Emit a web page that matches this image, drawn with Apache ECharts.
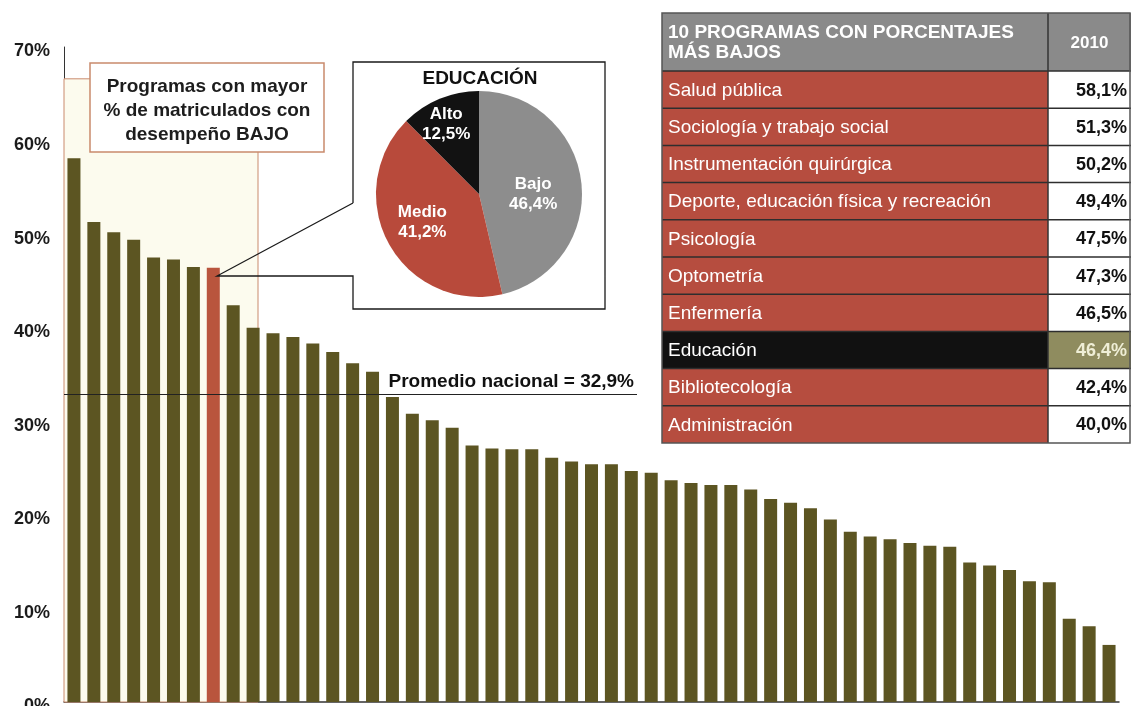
<!DOCTYPE html>
<html>
<head>
<meta charset="utf-8">
<script src="https://cdn.jsdelivr.net/npm/echarts@6/dist/echarts.min.js"></script>
<style>
  html, body { margin: 0; padding: 0; background: #fff; }
  #chart { width: 1131px; height: 706px; }
</style>
</head>
<body>
<div id="chart"></div>
<script>
// % de matriculados con desempeño bajo, por programa (ordenado)
const topNames = ['Salud pública', 'Sociología y trabajo social', 'Instrumentación quirúrgica',
  'Deporte, educación física y recreación', 'Psicología', 'Optometría', 'Enfermería',
  'Educación', 'Bibliotecología', 'Administración']
const programValues = [58.1, 51.3, 50.2, 49.4, 47.5, 47.3, 46.5, 46.4, 42.4, 40.0,
  39.4, 39.0, 38.3, 37.4, 36.2, 35.3, 32.6, 30.8, 30.1, 29.3,
  27.4, 27.1, 27.0, 27.0, 26.1, 25.7, 25.4, 25.4, 24.7, 24.5,
  23.7, 23.4, 23.2, 23.2, 22.7, 21.7, 21.3, 20.7, 19.5, 18.2,
  17.7, 17.4, 17.0, 16.7, 16.6, 14.9, 14.6, 14.1, 12.9, 12.8,
  8.9, 8.1, 6.1]
const categories = programValues.map((v, i) => i < topNames.length ? topNames[i] : 'Programa ' + (i + 1))
const highlightIndex = 7
const nationalMean = 32.9

// pie Educación
const pieNames = ['Bajo', 'Medio', 'Alto']
const pieValues = [46.4, 41.2, 12.5]

// tabla
const tableValues = ['58,1%', '51,3%', '50,2%', '49,4%', '47,5%', '47,3%', '46,5%', '46,4%', '42,4%', '40,0%']

const FONT = '"Liberation Sans", Arial, Helvetica, sans-serif'
const OLIVE = '#5c5522'
const RED = '#b9553d'
const TABLE_RED = '#b64d3f'

const chart = echarts.init(document.getElementById('chart'))

// table built with graphic elements
let tableEls = []
const tX = 662, tDiv = 1048, tR = 1131, tTop = 13, tHead = 71, rowH = 37.2
tableEls.push({type: 'rect', shape: {x: tX, y: tTop, width: tDiv - tX, height: tHead - tTop}, style: {fill: '#8a8a8a'}})
tableEls.push({type: 'rect', shape: {x: tDiv, y: tTop, width: tR - tDiv, height: tHead - tTop}, style: {fill: '#8a8a8a'}})
tableEls.push({type: 'text', x: 668, y: 43, style: {
  text: '10 PROGRAMAS CON PORCENTAJES\nMÁS BAJOS', fill: '#fff', font: 'bold 19px ' + FONT,
  lineHeight: 20, verticalAlign: 'middle', align: 'left'}})
tableEls.push({type: 'text', x: (tDiv + tR) / 2, y: 43, style: {
  text: '2010', fill: '#fff', font: 'bold 17px ' + FONT, verticalAlign: 'middle', align: 'center'}})
for (let i = 0; i < topNames.length; i++) {
  let y = tHead + i * rowH
  let isEdu = i === highlightIndex
  tableEls.push({type: 'rect', shape: {x: tX, y: y, width: tDiv - tX, height: rowH}, style: {fill: isEdu ? '#111' : TABLE_RED}})
  tableEls.push({type: 'rect', shape: {x: tDiv, y: y, width: tR - tDiv, height: rowH}, style: {fill: isEdu ? '#8f8c5f' : '#fff'}})
  tableEls.push({type: 'text', x: 668, y: y + rowH / 2 + 1, style: {
    text: topNames[i], fill: '#fff', font: '19px ' + FONT, verticalAlign: 'middle', align: 'left'}})
  tableEls.push({type: 'text', x: 1127, y: y + rowH / 2 + 1, style: {
    text: tableValues[i], fill: isEdu ? '#efeed6' : '#111', font: 'bold 18px ' + FONT, verticalAlign: 'middle', align: 'right'}})
  tableEls.push({type: 'line', shape: {x1: tX, y1: y, x2: tR, y2: y}, style: {stroke: '#2e2e2e', lineWidth: 1.5}})
}
tableEls.push({type: 'line', shape: {x1: tDiv, y1: tTop, x2: tDiv, y2: tHead + 10 * rowH}, style: {stroke: '#333', lineWidth: 1.5}})
tableEls.push({type: 'rect', shape: {x: tX, y: tTop, width: tR - tX - 1, height: tHead + 10 * rowH - tTop},
  style: {fill: 'none', stroke: '#555', lineWidth: 1.5}})

const option = {
  backgroundColor: '#fff',
  animation: false,
  grid: {left: 64, right: 12, top: 47, bottom: 4, containLabel: false, outerBoundsMode: 'none'},
  xAxis: {
    type: 'category',
    data: categories,
    boundaryGap: true,
    axisLine: {lineStyle: {color: '#333', width: 1.5}},
    axisTick: {show: false},
    axisLabel: {show: false}
  },
  yAxis: {
    type: 'value',
    min: 0,
    max: 70,
    interval: 10,
    axisLine: {show: true, lineStyle: {color: '#333', width: 1}},
    axisTick: {show: false},
    splitLine: {show: false},
    axisLabel: {
      formatter: '{value}%', fontWeight: 'bold', fontSize: 18, color: '#1b1b1b',
      fontFamily: FONT, margin: 14, verticalAlign: 'top', lineHeight: 9
    }
  },
  series: [
    {
      type: 'bar',
      data: programValues.map((v, i) => i === highlightIndex ? {value: v, itemStyle: {color: RED}} : v),
      barWidth: 13,
      itemStyle: {color: OLIVE},
      markArea: {
        silent: true,
        itemStyle: {color: '#fcfbee', borderColor: '#c98a6c', borderWidth: 1},
        data: [[{x: 64, yAxis: 66.6}, {x: 258, yAxis: 0}]]
      },
      markLine: {
        silent: true,
        symbol: ['none', 'none'],
        lineStyle: {color: '#222', width: 1.2, type: 'solid'},
        label: {
          show: true, position: 'insideEndTop', formatter: 'Promedio nacional = 32,9%',
          fontWeight: 'bold', fontSize: 19, color: '#111', fontFamily: FONT, distance: 3
        },
        data: [[{x: 64, yAxis: nationalMean}, {x: 637, yAxis: nationalMean}]]
      }
    },
    {
      type: 'pie',
      center: [479, 194],
      radius: 103,
      startAngle: 90,
      clockwise: true,
      silent: true,
      label: {
        show: true, position: 'inside', color: '#fff', fontWeight: 'bold', fontSize: 17,
        fontFamily: FONT, lineHeight: 20,
        formatter: p => p.name + '\n' + String(p.value).replace('.', ',') + '%'
      },
      labelLayout: p => {
        if (p.dataIndex === 2) return {dx: -12, dy: -19}
        if (p.dataIndex === 1) return {dx: -9, dy: 2}
        return {dx: 0, dy: 7}
      },
      data: pieNames.map((n, i) => ({name: n, value: pieValues[i],
        itemStyle: {color: ['#8d8d8d', '#b84a3b', '#121212'][i]}}))
    }
  ],
  graphic: [
    // pie callout frame
    {type: 'polyline', z: 100, shape: {points: [[353, 203], [353, 62], [605, 62], [605, 309], [353, 309], [353, 276], [217, 276], [353, 203]]},
      style: {stroke: '#1a1a1a', lineWidth: 1.3, fill: 'none'}},
    {type: 'text', z: 100, x: 480, y: 79, style: {text: 'EDUCACIÓN', font: 'bold 19px ' + FONT, fill: '#111', align: 'center', verticalAlign: 'middle'}},
    // box over shaded area
    {type: 'rect', z: 100, shape: {x: 90, y: 63, width: 234, height: 89}, style: {fill: '#fff', stroke: '#c98a6c', lineWidth: 1.5}},
    {type: 'text', z: 101, x: 207, y: 111, style: {
      text: 'Programas con mayor\n% de matriculados con\ndesempeño BAJO', font: 'bold 19px ' + FONT,
      fill: '#1d1d1d', align: 'center', verticalAlign: 'middle', lineHeight: 24}}
  ].concat(tableEls.map(e => Object.assign({z: 100}, e)))
}

chart.setOption(option)
</script>
</body>
</html>
